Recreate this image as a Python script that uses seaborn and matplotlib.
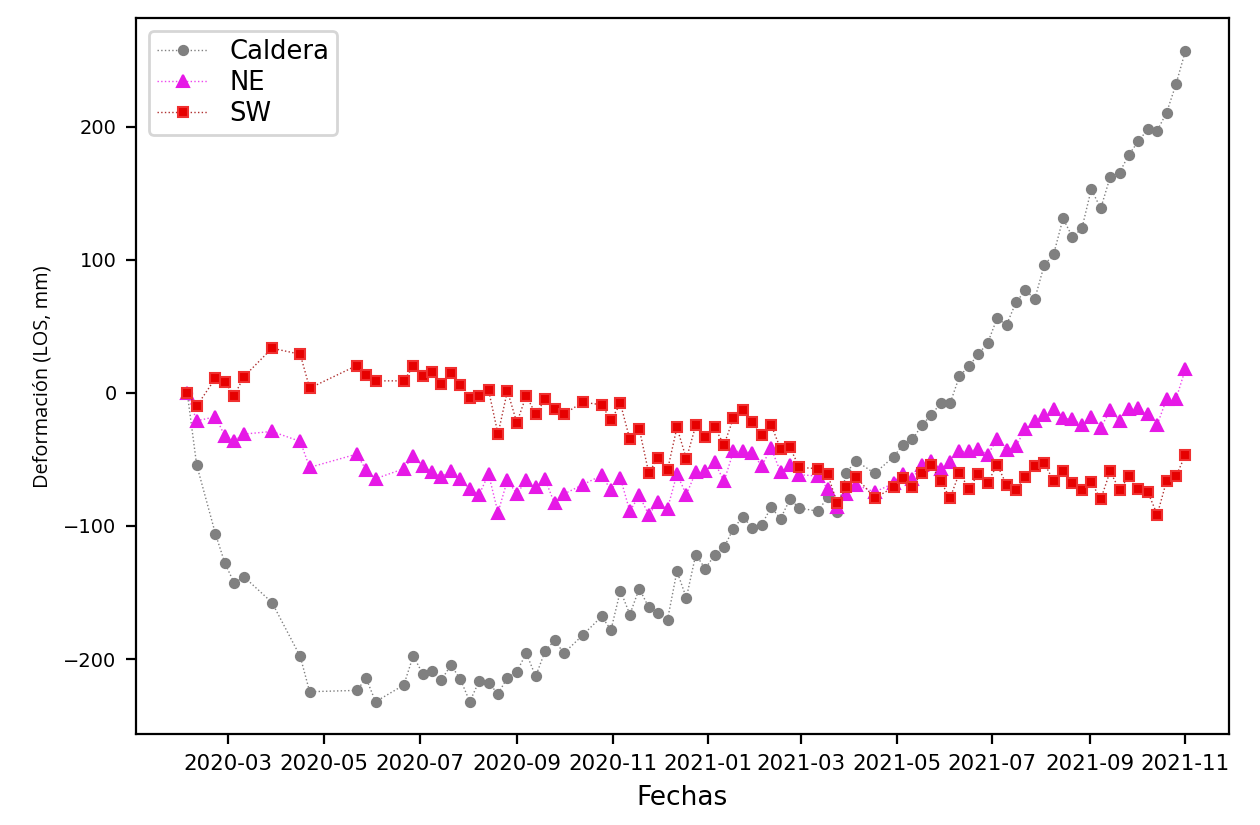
import pandas as pd
import matplotlib
matplotlib.use("Agg")
import matplotlib.pyplot as plt
import matplotlib.dates as mdates
import seaborn as sns

# Fechas de adquisición (cadencia de 6 días, con huecos)
fechas = [
    "2020-02-04", "2020-02-10", "2020-02-22", "2020-02-28", "2020-03-05", "2020-03-11",
    "2020-03-29", "2020-04-16", "2020-04-22", "2020-05-22", "2020-05-28", "2020-06-03",
    "2020-06-21", "2020-06-27", "2020-07-03", "2020-07-09", "2020-07-15", "2020-07-21",
    "2020-07-27", "2020-08-02", "2020-08-08", "2020-08-14", "2020-08-20", "2020-08-26",
    "2020-09-01", "2020-09-07", "2020-09-13", "2020-09-19", "2020-09-25", "2020-10-01",
    "2020-10-13", "2020-10-25", "2020-10-31", "2020-11-06", "2020-11-12", "2020-11-18",
    "2020-11-24", "2020-11-30", "2020-12-06", "2020-12-12", "2020-12-18", "2020-12-24",
    "2020-12-30", "2021-01-05", "2021-01-11", "2021-01-17", "2021-01-23", "2021-01-29",
    "2021-02-04", "2021-02-10", "2021-02-16", "2021-02-22", "2021-02-28", "2021-03-12",
    "2021-03-18", "2021-03-24", "2021-03-30", "2021-04-05", "2021-04-17", "2021-04-29",
    "2021-05-05", "2021-05-11", "2021-05-17", "2021-05-23", "2021-05-29", "2021-06-04",
    "2021-06-10", "2021-06-16", "2021-06-22", "2021-06-28", "2021-07-04", "2021-07-10",
    "2021-07-16", "2021-07-22", "2021-07-28", "2021-08-03", "2021-08-09", "2021-08-15",
    "2021-08-21", "2021-08-27", "2021-09-02", "2021-09-08", "2021-09-14", "2021-09-20",
    "2021-09-26", "2021-10-02", "2021-10-08", "2021-10-14", "2021-10-20", "2021-10-26",
    "2021-11-01",
]

caldera = [
    0, -54, -106, -128, -143, -138, -157.5, -198, -224.5, -223.5, -214.5, -232,
    -219.5, -197.5, -211, -209, -215.5, -204.5, -215, -232, -216.5, -218, -226, -214,
    -209.5, -195.5, -213, -194, -186, -195.5, -182, -168, -178, -148.5, -166.5, -147,
    -161, -165, -170.5, -134, -154, -121.5, -132, -122, -116, -102, -93, -101.5,
    -99, -86, -94.5, -80, -86.5, -89, -78, -89.5, -60, -51, -60.5, -48,
    -39, -35, -24.5, -16.5, -8, -8, 12.5, 20, 29, 37.5, 56, 51,
    68, 77, 70.5, 96, 104, 131, 117, 123.5, 153, 138.5, 162, 165.5,
    179, 189, 198, 197, 210.5, 232, 257,
]

ne = [
    0, -21, -18, -32.5, -36, -31, -29, -36.5, -56, -46, -58, -64.5,
    -57, -47.5, -55, -59.5, -63, -58.5, -65, -72.5, -76.5, -61, -90, -65.5,
    -76, -65.5, -71, -65, -83, -76, -69, -62, -73, -64, -89, -77,
    -91.5, -82, -87, -61, -76.5, -59.5, -59, -52, -66.5, -44, -44, -45,
    -55, -41.5, -59.5, -54.5, -61.5, -62.5, -72, -86, -76, -69, -74.5, -68,
    -61, -64.5, -54, -51.5, -57, -52, -44, -44, -42, -46.5, -35, -43,
    -40, -27, -21, -17, -12.5, -19, -20, -24, -18, -26.5, -13, -21,
    -12, -11.5, -16, -24, -4.5, -4.5, 18,
]

sw = [
    0, -10, 11, 8, -2, 12, 33.5, 29, 3.5, 20.5, 13.5, 9,
    9, 20, 13, 16, 7, 15, 6, -4, -2, 2, -31, 1.5,
    -22.5, -2, -16, -5, -12, -16, -7, -9, -20.5, -8, -35, -27,
    -60, -49, -58, -26, -49.5, -24.5, -33, -26, -39, -19, -13, -22,
    -31.5, -24, -42, -41, -56, -57, -61, -82.5, -71, -63, -79, -71,
    -64, -71, -60, -54, -66.5, -79, -60, -72, -61, -67.5, -54, -69,
    -73, -63, -55, -53, -66, -59, -68, -73, -67, -80, -59, -73,
    -62.5, -72, -74.5, -91.5, -66, -62.5, -46.5,
]

df = pd.DataFrame({
    "fecha": pd.to_datetime(fechas),
    "Caldera": caldera,
    "NE": ne,
    "SW": sw,
})

sns.set_style("ticks", {"axes.edgecolor": "black", "xtick.color": "black",
                        "ytick.color": "black", "axes.linewidth": 0.8,
                        "text.color": "black", "axes.labelcolor": "black"})
plt.rcParams["font.family"] = ["DejaVu Sans"]

fig = plt.figure(figsize=(6.3, 4.125), dpi=200)
ax = fig.add_axes([0.108, 0.110, 0.867, 0.868])

sns.lineplot(data=df, x="fecha", y="Caldera", ax=ax, label="Caldera",
             color="grey", linestyle=":", linewidth=0.5, marker="o",
             markersize=3.3, markeredgecolor="grey", markerfacecolor="grey")
sns.lineplot(data=df, x="fecha", y="NE", ax=ax, label="NE",
             color="#ee44ee", linestyle=":", linewidth=0.5, marker="^",
             markersize=4, markeredgecolor="#e619e6", markerfacecolor="#e619e6")
sns.lineplot(data=df, x="fecha", y="SW", ax=ax, label="SW",
             color="#b03030", linestyle=":", linewidth=0.5, marker="s",
             markersize=3.3, markeredgecolor="#f03030", markerfacecolor="#e60000")

ax.set_xlim(pd.Timestamp("2020-01-02 10:00"), pd.Timestamp("2021-11-28 10:00"))
ax.xaxis.set_major_locator(mdates.MonthLocator(bymonth=[1, 3, 5, 7, 9, 11]))
ax.xaxis.set_major_formatter(mdates.DateFormatter("%Y-%m"))
ax.tick_params(axis="x", labelsize=7.7, length=3.5, width=0.8)
ax.tick_params(axis="y", labelsize=7, length=3.5, width=0.8)

ax.set_xlabel("Fechas", fontsize=9.5)
ax.set_ylabel("Deformación (LOS, mm)", fontsize=7.2, family=["Open Sans", "DejaVu Sans"])

ax.legend(loc="upper left", fontsize=9.3, frameon=True, fancybox=True,
          edgecolor="#cccccc", framealpha=0.8, labelspacing=0.2,
          borderpad=0.3, borderaxespad=0.5)

fig.savefig("out.png", dpi=200)
